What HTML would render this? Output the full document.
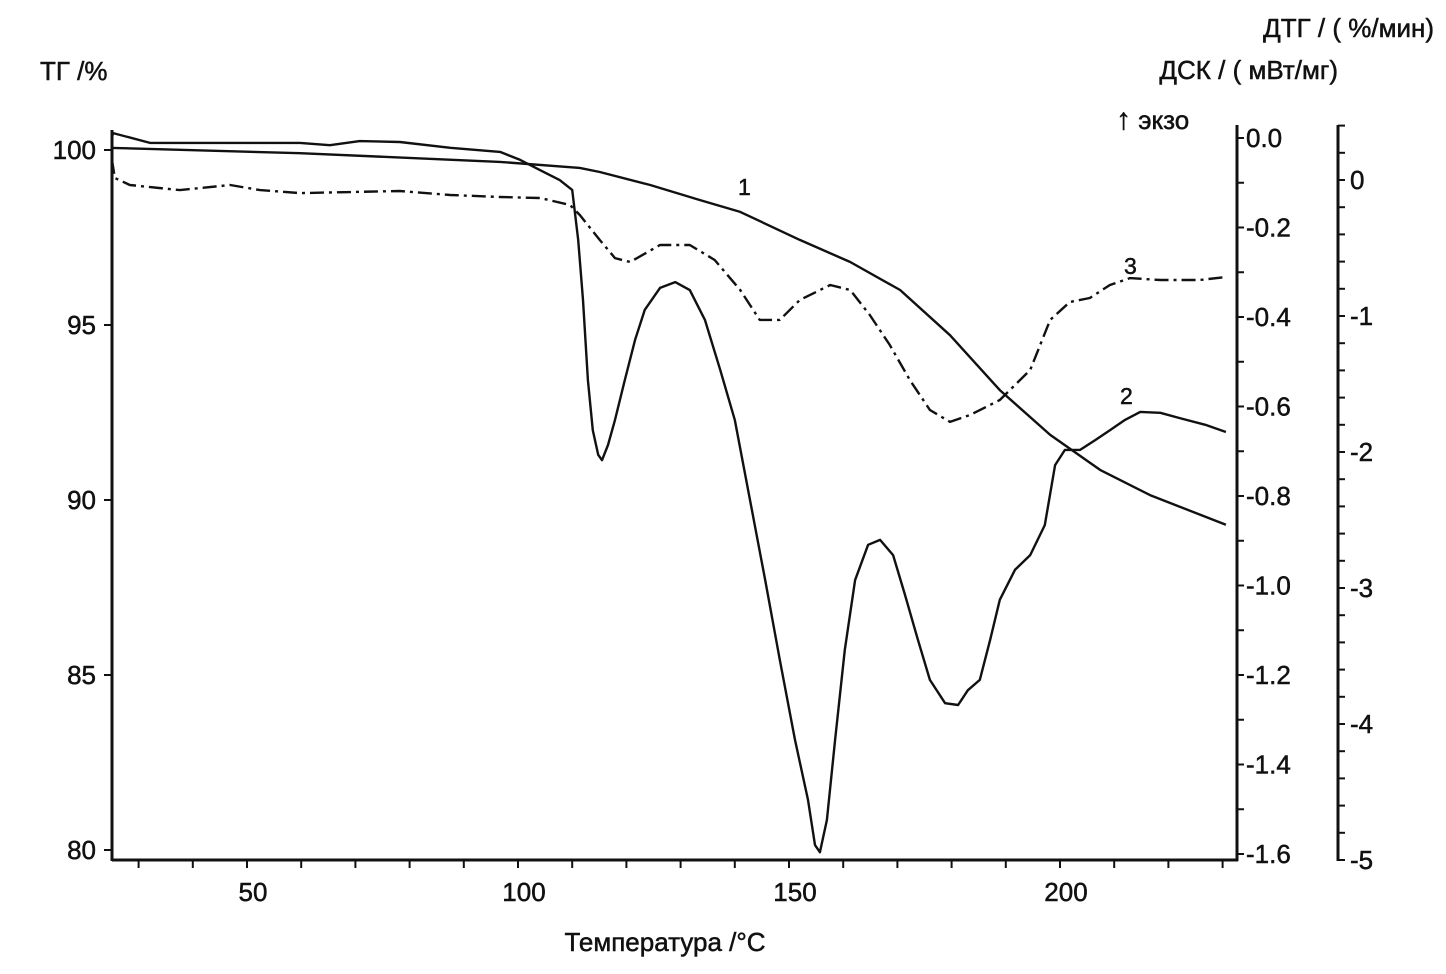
<!DOCTYPE html>
<html><head><meta charset="utf-8"><style>
body{margin:0;background:#fff}
svg text{font-family:"Liberation Sans","DejaVu Sans",sans-serif;fill:#111;stroke:#111;stroke-width:0.5}
</style></head><body>
<svg id="chart" width="1446" height="969" viewBox="0 0 1446 969" xmlns="http://www.w3.org/2000/svg">
<g id="axes"></g>
<g id="series"></g>
<text x="40" y="80" font-size="26">ТГ /%</text>
<text x="1434" y="37" font-size="26" text-anchor="end">ДТГ / ( %/мин)</text>
<text x="1338" y="79" font-size="26" text-anchor="end">ДСК / ( мВт/мг)</text>
<text x="1116" y="129" font-size="26"><tspan font-size="30">↑</tspan> экзо</text>
<text x="665" y="951" font-size="26" text-anchor="middle">Температура /°C</text>
<text x="738" y="195" font-size="23">1</text>
<text x="1120" y="404" font-size="23">2</text>
<text x="1124" y="274" font-size="23">3</text>
</svg>
<script>
const xTicks=[50,100,150,200];
const tgTicks=[100,95,90,85,80];
const dscTicks=[0.0,-0.2,-0.4,-0.6,-0.8,-1.0,-1.2,-1.4,-1.6];
const dtgTicks=[0,-1,-2,-3,-4,-5];
const tgT=[25.1,59.8,96.7,111.4,115.1,124.4,133.6,141.0,152.0,161.3,170.5,179.7,188.9,198.2,207.4,216.6,230.6];
const tgV=[100.06,99.91,99.66,99.49,99.37,99.0,98.57,98.23,97.43,96.8,96.0,94.71,93.14,91.86,90.86,90.14,89.29];
const dscT=[25.1,25.3,32.1,59.8,65.3,70.8,78.2,87.5,96.7,100.4,104.1,107.7,110.0,111.1,112.0,112.9,113.8,114.8,115.5,116.6,117.9,119.7,121.6,123.4,126.2,129.0,131.7,134.5,137.3,140.0,142.8,145.6,148.3,151.1,153.5,154.8,155.7,157.0,158.5,160.3,162.2,164.6,166.8,169.2,171.4,173.8,176.0,178.8,181.2,183.0,185.2,187.1,188.9,191.7,194.5,197.2,199.1,200.9,203.7,206.5,209.2,212.0,214.8,218.5,222.1,226.8,230.6];
const dscV=[0.002,0.011,-0.011,-0.011,-0.016,-0.007,-0.009,-0.022,-0.031,-0.049,-0.072,-0.094,-0.116,-0.228,-0.362,-0.541,-0.653,-0.708,-0.72,-0.686,-0.63,-0.541,-0.451,-0.384,-0.335,-0.322,-0.34,-0.407,-0.518,-0.63,-0.809,-0.988,-1.166,-1.345,-1.479,-1.58,-1.596,-1.524,-1.345,-1.144,-0.988,-0.909,-0.898,-0.932,-1.021,-1.122,-1.211,-1.263,-1.267,-1.234,-1.211,-1.122,-1.032,-0.965,-0.932,-0.865,-0.731,-0.697,-0.697,-0.675,-0.653,-0.63,-0.612,-0.614,-0.626,-0.641,-0.657];
const dtgT=[25.1,25.6,28.4,37.6,46.9,52.4,59.8,78.2,87.5,96.7,104.1,109.6,111.4,115.1,117.9,120.7,126.2,131.7,136.3,141.0,144.6,148.3,152.0,157.6,161.3,164.9,168.6,172.3,176.0,179.7,183.4,188.9,194.5,198.2,201.8,205.5,209.2,212.9,218.5,225.8,230.6];
const dtgV=[0.147,0.015,-0.037,-0.074,-0.037,-0.074,-0.096,-0.081,-0.11,-0.125,-0.132,-0.184,-0.257,-0.441,-0.574,-0.603,-0.478,-0.478,-0.588,-0.809,-1.029,-1.029,-0.882,-0.772,-0.809,-0.993,-1.213,-1.471,-1.691,-1.779,-1.728,-1.618,-1.397,-1.029,-0.897,-0.868,-0.772,-0.721,-0.735,-0.735,-0.713];

const X=t=>247+(t-50)*5.42;
const YT=v=>150+(100-v)*35;
const YD=v=>138-v*447.5;
const YR=v=>180-v*136;
const NS='http://www.w3.org/2000/svg';
const axes=document.getElementById('axes'), ser=document.getElementById('series');
function mk(tag,at,parent){const e=document.createElementNS(NS,tag);for(const k in at)e.setAttribute(k,at[k]);parent.appendChild(e);return e;}
const st={stroke:'#111','stroke-width':3,fill:'none'};
let e;
e=mk('line',Object.assign({x1:112,y1:860,x2:1238,y2:860},st),axes);


e=mk('line',Object.assign({x1:112,y1:130,x2:112,y2:861},st),axes);


e=mk('line',Object.assign({x1:1237,y1:125,x2:1237,y2:861},st),axes);


e=mk('line',Object.assign({x1:1338,y1:125,x2:1338,y2:861},st),axes);


for(let t=30;t<=230;t+=10){mk('line',{x1:X(t),y1:860,x2:X(t),y2:868,stroke:'#111','stroke-width':2},axes);}
xTicks.forEach(t=>{e=mk('text',{x:X(t)+6,y:901,'font-size':26,'text-anchor':'middle'},axes);e.textContent=t;

});
tgTicks.forEach(v=>{mk('line',{x1:104,y1:YT(v),x2:112,y2:YT(v),stroke:'#111','stroke-width':2},axes);
e=mk('text',{x:96,y:YT(v)+9,'font-size':26,'text-anchor':'end'},axes);e.textContent=v;

});
for(let v=0;v>=-1.65;v-=0.1){mk('line',{x1:1237,y1:YD(v),x2:1244,y2:YD(v),stroke:'#111','stroke-width':2},axes);}
dscTicks.forEach(v=>{e=mk('text',{x:1246,y:YD(v)+9,'font-size':26},axes);e.textContent=v.toFixed(1);

});
for(let v=0.4;v>=-5.05;v-=0.2){mk('line',{x1:1338,y1:YR(v),x2:1345,y2:YR(v),stroke:'#111','stroke-width':2},axes);}
dtgTicks.forEach(v=>{e=mk('text',{x:1350,y:YR(v)+9,'font-size':26},axes);e.textContent=v;

});
function path(T,V,Y,extra){return mk('path',Object.assign({d:T.map((t,i)=>(i?'L':'M')+X(t).toFixed(1)+','+Y(V[i]).toFixed(1)).join(''),stroke:'#111','stroke-width':2.4,fill:'none','stroke-linejoin':'round'},extra),ser);}
e=path(tgT,tgV,YT,{});


e=path(dscT,dscV,YD,{});


e=path(dtgT,dtgV,YR,{'stroke-dasharray':'14 5 3 5'});


</script>
</body></html>
